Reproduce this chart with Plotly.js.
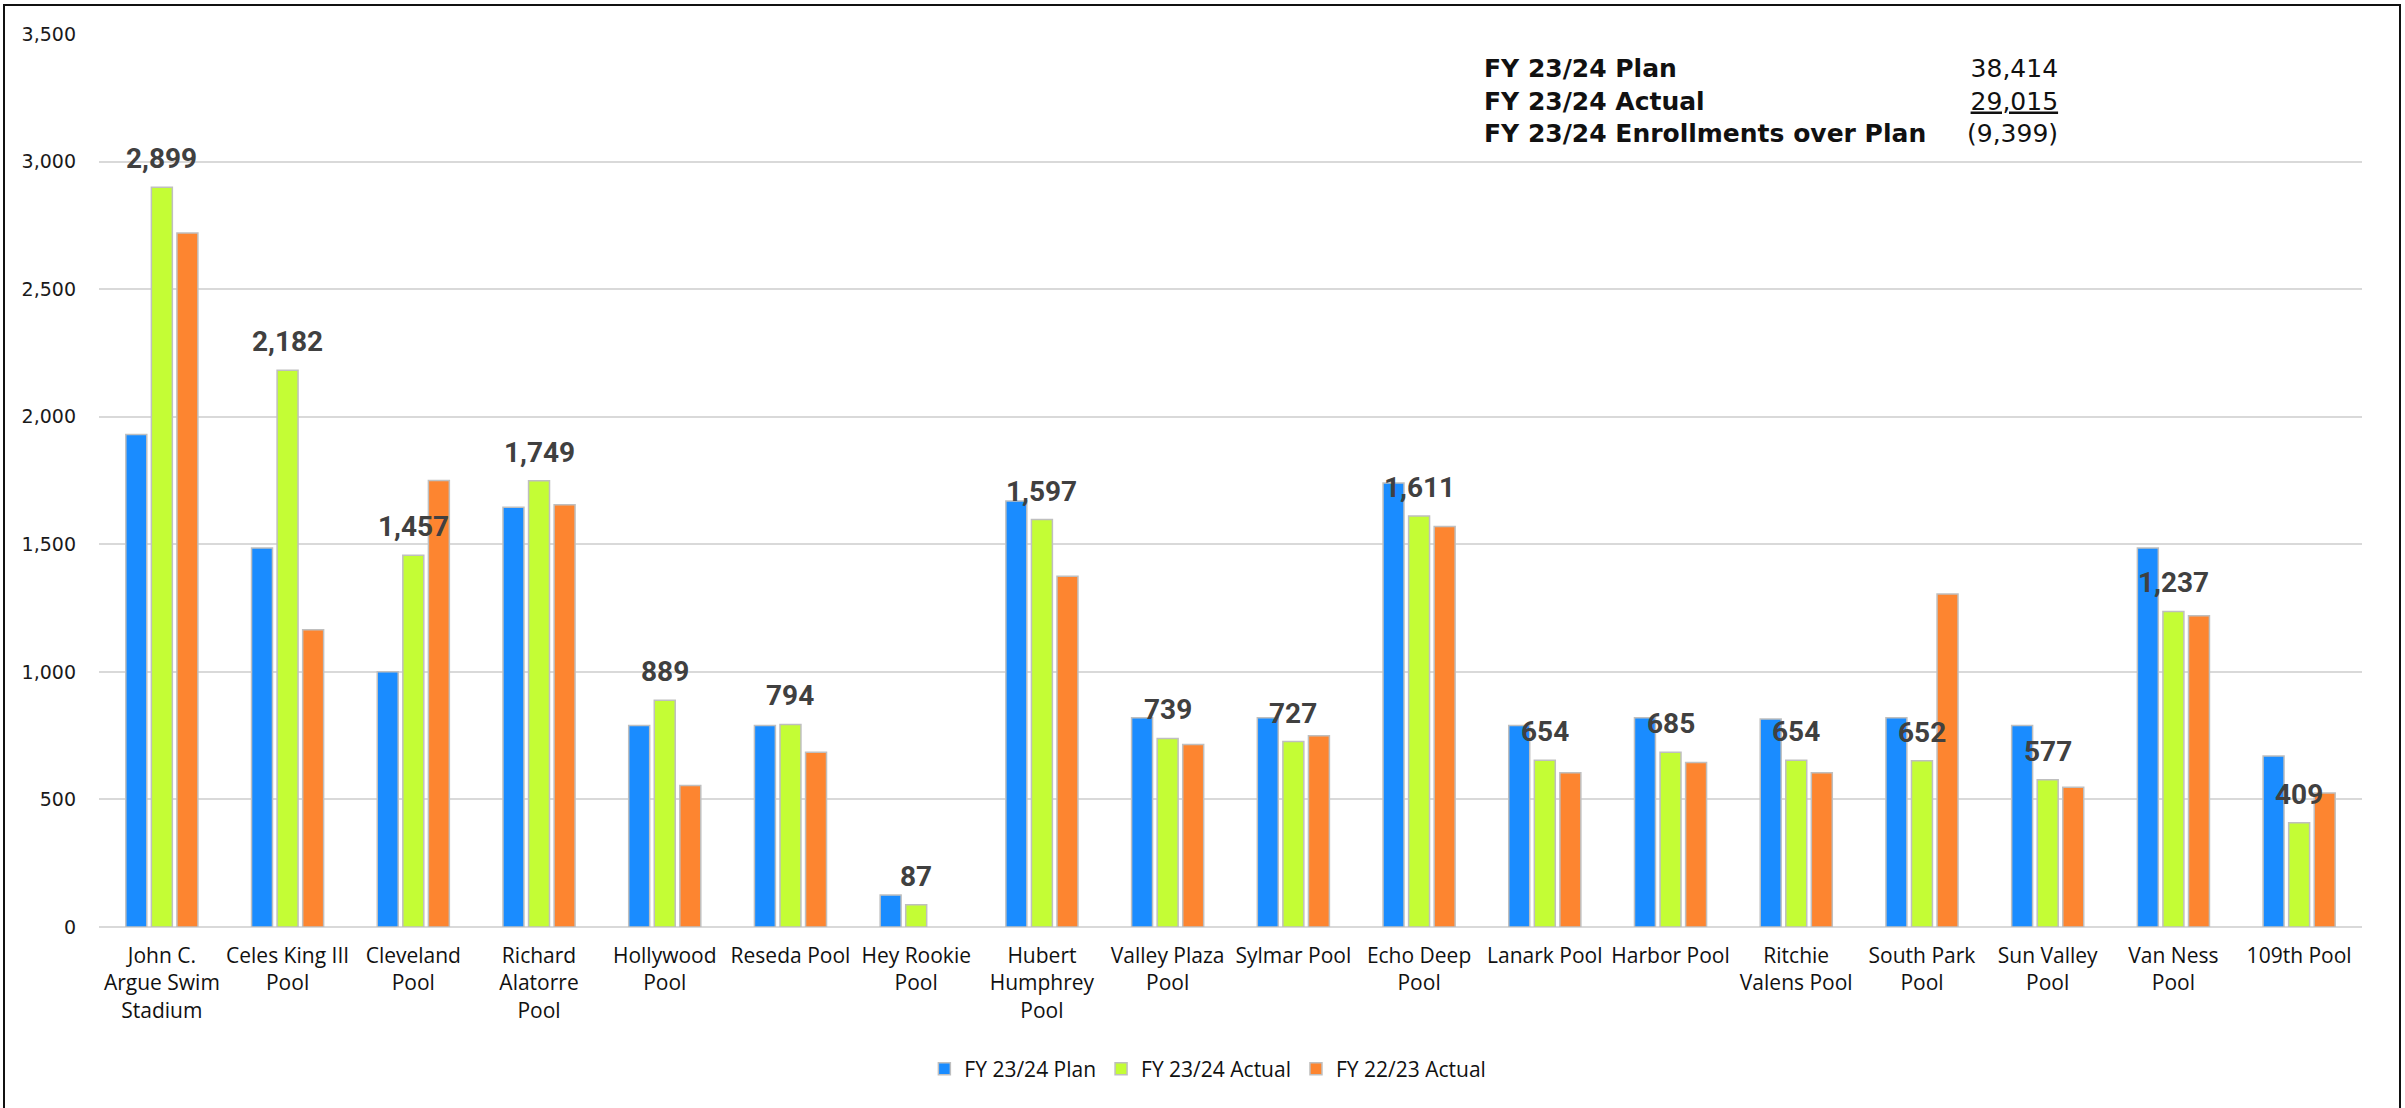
<!DOCTYPE html>
<html>
<head>
<meta charset="utf-8">
<script src="https://cdn.plot.ly/plotly-3.0.1.min.js"></script>
<style>
  html, body { margin: 0; padding: 0; background: #ffffff; overflow: hidden; }
  #chart { position: absolute; left: 0; top: 0; width: 2405px; height: 1108px; }
  #frame { position: absolute; left: 3px; top: 4px; width: 2394px; height: 1200px;
           border: 2px solid #111111; pointer-events: none; }
</style>
</head>
<body>
<div id="chart"></div>
<div id="frame"></div>
<script>
// ---- data ----
const categories = [
  "John C.<br>Argue Swim<br>Stadium", "Celes King III<br>Pool", "Cleveland<br>Pool",
  "Richard<br>Alatorre<br>Pool", "Hollywood<br>Pool", "Reseda Pool", "Hey Rookie<br>Pool",
  "Hubert<br>Humphrey<br>Pool", "Valley Plaza<br>Pool", "Sylmar Pool", "Echo Deep<br>Pool",
  "Lanark Pool", "Harbor Pool", "Ritchie<br>Valens Pool", "South Park<br>Pool",
  "Sun Valley<br>Pool", "Van Ness<br>Pool", "109th Pool"
];
const plan2324 = [1930, 1485, 1000, 1645, 790, 790, 125, 1670, 820, 820, 1740, 790, 820, 815, 820, 790, 1485, 670];
const actual2324 = [2899, 2182, 1457, 1749, 889, 794, 87, 1597, 739, 727, 1611, 654, 685, 654, 652, 577, 1237, 409];
const actual2223 = [2720, 1165, 1750, 1655, 555, 685, null, 1375, 715, 750, 1570, 605, 645, 605, 1305, 548, 1220, 525];
const seriesNames = ["FY 23/24 Plan", "FY 23/24 Actual", "FY 22/23 Actual"];
const summaryLabels = ["FY 23/24 Plan", "FY 23/24 Actual", "FY 23/24 Enrollments over Plan"];
const summaryValues = ["38,414", "29,015", "(9,399)"];
const yTickVals = [0, 500, 1000, 1500, 2000, 2500, 3000, 3500];

// ---- styles ----
const colors = ["#1a8cff", "#c4fd35", "#fd8530"];
const barLine = { color: "#bfbfbf", width: 1.5 };
const catFont = "Open Sans, Liberation Sans, sans-serif";
const sumFont = "DejaVu Sans, Verdana, sans-serif";

const traces = [plan2324, actual2324, actual2223].map((vals, i) => ({
  type: "bar",
  name: seriesNames[i],
  x: categories,
  y: vals,
  marker: { color: colors[i], line: barLine },
  hoverinfo: "x+y+name"
}));

const fmt = v => v.toLocaleString("en-US");
const annotations = actual2324.map((v, i) => ({
  x: categories[i], y: v, xref: "x", yref: "y",
  text: fmt(v), showarrow: false,
  xanchor: "center", yanchor: "bottom", yshift: 10,
  font: { family: "Roboto, Lato, sans-serif", size: 28, color: "#404040", weight: 700 }
}));

// summary block (top right)
annotations.push({
  xref: "paper", yref: "paper", x: 0.611, y: 0.9245,
  xanchor: "left", yanchor: "middle", align: "left", showarrow: false,
  text: summaryLabels.join("<br>"),
  font: { family: sumFont, size: 25, color: "#111111", weight: 700 }
});
annotations.push({
  xref: "paper", yref: "paper", x: 0.8665, y: 0.9245,
  xanchor: "right", yanchor: "middle", align: "right", showarrow: false,
  text: summaryValues.map((t, i) => i === 1 ? "<u>" + t + "</u>" : t).join("<br>"),
  font: { family: sumFont, size: 25, color: "#111111" }
});

const layout = {
  width: 2405, height: 1108,
  margin: { l: 99, r: 43, t: 34, b: 181 },
  paper_bgcolor: "#ffffff", plot_bgcolor: "#ffffff",
  barmode: "group", bargap: 0.39, bargroupgap: 0.18,
  showlegend: true,
  legend: {
    orientation: "h", x: 0.49, xanchor: "center", y: -0.159, yanchor: "middle",
    font: { family: catFont, size: 21, color: "#111111" },
    itemclick: false, itemdoubleclick: false, traceorder: "normal"
  },
  xaxis: {
    type: "category", tickangle: 0, ticks: "", showgrid: false, showline: false,
    ticklabelstandoff: 14,
    tickfont: { family: catFont, size: 21, color: "#111111" },
    automargin: false
  },
  yaxis: {
    range: [0, 3500], tickvals: yTickVals, tickformat: ",d",
    showgrid: true, gridcolor: "#d9d9d9", gridwidth: 2,
    zeroline: true, zerolinecolor: "#d9d9d9", zerolinewidth: 2,
    showline: false, ticks: "", ticklabelstandoff: 22,
    tickfont: { family: "DejaVu Sans, Verdana, sans-serif", size: 19, color: "#1a1a1a" },
    automargin: false, fixedrange: true
  },
  annotations: annotations,
  font: { family: catFont }
};

Plotly.newPlot("chart", traces, layout, { displayModeBar: false, staticPlot: true });
</script>
</body>
</html>
